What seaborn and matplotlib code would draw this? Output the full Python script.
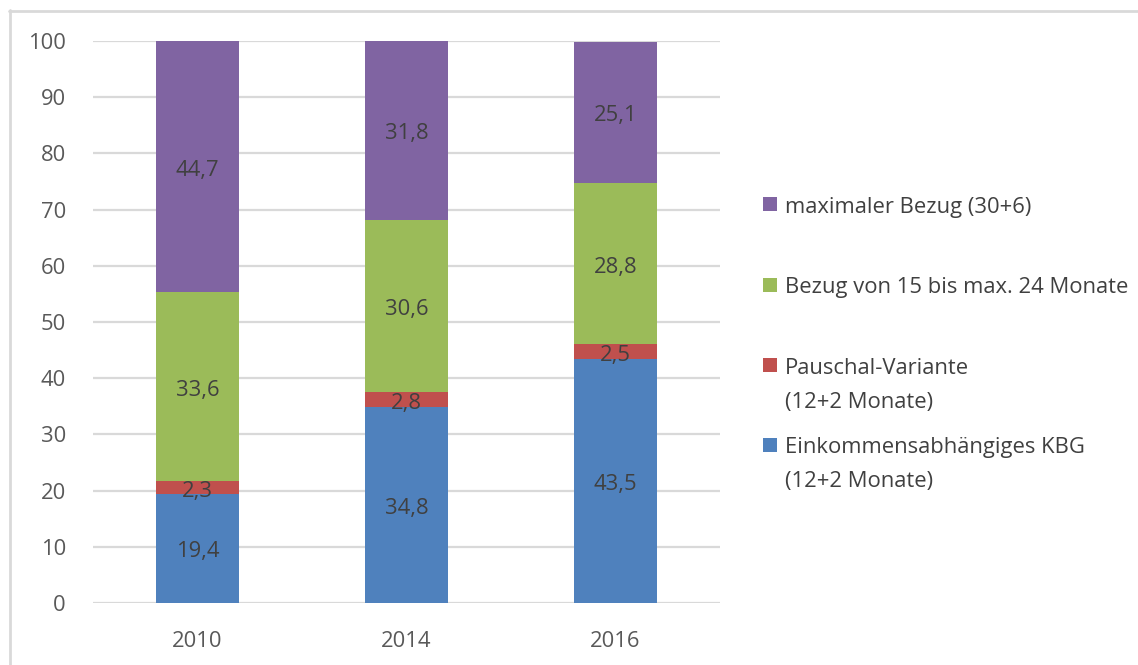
import matplotlib
matplotlib.use("Agg")
import matplotlib.pyplot as plt
import matplotlib.transforms as mtransforms
import seaborn as sns
import pandas as pd
import numpy as np
from matplotlib.patches import Rectangle
from matplotlib.lines import Line2D

years = ["2010", "2014", "2016"]
series_names = [
    "Einkommensabhängiges KBG\n(12+2 Monate)",
    "Pauschal-Variante\n(12+2 Monate)",
    "Bezug von 15 bis max. 24 Monate",
    "maximaler Bezug (30+6)",
]
einkommen = [19.4, 34.8, 43.5]
pauschal = [2.3, 2.8, 2.5]
bezug_15_24 = [33.6, 30.6, 28.8]
maximal = [44.7, 31.8, 25.1]
colors = ["#4F81BD", "#C0504D", "#9BBB59", "#8064A2"]
yticks = [0, 10, 20, 30, 40, 50, 60, 70, 80, 90, 100]

sns.set_theme(style="white")
plt.rcParams["font.family"] = ["Open Sans", "DejaVu Sans"]

text_color = "#404040"
tick_color = "#595959"
grid_color = "#D9D9D9"
fs = 15.8

W, H = 1138, 665
fig = plt.figure(figsize=(W / 100, H / 100), dpi=100)
ax = fig.add_axes([93 / W, (H - 603) / H, (720 - 93) / W, (603 - 41) / H])

values = [einkommen, pauschal, bezug_15_24, maximal]
rows = []
for name, vals in zip(series_names, values):
    for y, v in zip(years, vals):
        rows.append({"Jahr": y, "Serie": name, "Wert": v})
df = pd.DataFrame(rows)

label_tr = mtransforms.offset_copy(ax.transData, fig=fig, x=0, y=-3.5, units="dots")

bottoms = np.zeros(len(years))
for name, vals, col in zip(series_names, values, colors):
    sub = df[df["Serie"] == name]
    sns.barplot(data=sub, x="Jahr", y="Wert", order=years, color=col,
                bottom=bottoms, width=0.4, ax=ax, zorder=3, saturation=1,
                linewidth=0, errorbar=None)
    for i, v in enumerate(vals):
        ax.text(i, bottoms[i] + v / 2, f"{v:.1f}".replace(".", ","),
                ha="center", va="center", color=text_color, fontsize=fs,
                zorder=5, transform=label_tr)
    bottoms = bottoms + np.array(vals)

ax.set_xlim(-0.5, 2.5)
ax.set_ylim(0, 100)
ax.set_yticks(yticks)
ax.set_yticklabels([str(t) for t in yticks])
ax.yaxis.grid(True, color=grid_color, linewidth=1.6, zorder=0)
ax.set_axisbelow(True)
for s in ax.spines.values():
    s.set_visible(False)
ax.tick_params(axis="both", length=0, labelsize=fs, colors=tick_color)
ax.tick_params(axis="y", pad=19.5)
ax.tick_params(axis="x", pad=20.5)
ax.set_xlabel("")
ax.set_ylabel("")

# Legend (manual placement)
legend_rows = [
    (3, 204),
    (2, 284.5),
    (1, 365),
    (0, 444.5),
]
line_gap = 34
for idx, yc in legend_rows:
    fig.patches.append(Rectangle((763 / W, 1 - (yc + 7) / H), 14 / W, 14 / H,
                                 transform=fig.transFigure, facecolor=colors[idx],
                                 edgecolor="none"))
    for k, line in enumerate(series_names[idx].split("\n")):
        fig.text(785 / W, 1 - (yc + 3 + k * line_gap) / H, line, ha="left",
                 va="center", color=text_color, fontsize=fs)

# Frame lines (top and left)
fig.add_artist(Line2D([9 / W, 1.0], [1 - 10.5 / H, 1 - 10.5 / H],
                      transform=fig.transFigure, color=grid_color, linewidth=2))
fig.add_artist(Line2D([10 / W, 10 / W], [0, 1 - 10 / H],
                      transform=fig.transFigure, color=grid_color, linewidth=2))

fig.savefig("out.png", dpi=100)
